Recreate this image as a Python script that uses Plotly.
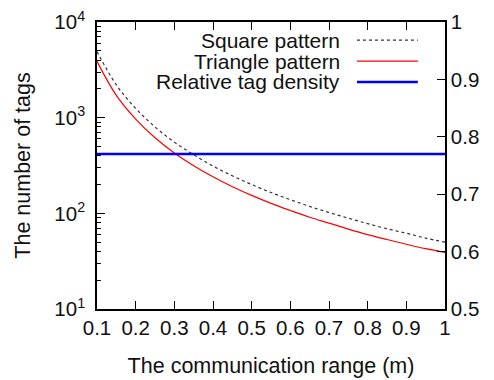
import plotly.graph_objects as go

# communication range (m)
comm_range = [0.1, 0.15, 0.2, 0.25, 0.3, 0.35, 0.4, 0.45, 0.5, 0.55, 0.6,
              0.65, 0.7, 0.75, 0.8, 0.85, 0.9, 0.95, 1.0]
# number of tags, square pattern
square_tags = [4900, 2200, 1250, 800, 555, 410, 312, 247, 200, 165, 139,
               118, 102, 89, 78, 69, 62, 55, 50]
# number of tags, triangle pattern
triangle_tags = [3880, 1710, 965, 617, 428, 315, 241, 190, 154, 127, 107,
                 91, 79, 68.5, 60, 53.3, 47.5, 42.7, 39]
# relative tag density (right axis)
rel_density = [0.77] * len(comm_range)

series_names = ["Square pattern", "Triangle pattern", "Relative tag density"]
x_ticks = [0.1, 0.2, 0.3, 0.4, 0.5, 0.6, 0.7, 0.8, 0.9, 1]
x_ticktext = ["0.1", "0.2", "0.3", "0.4", "0.5", "0.6", "0.7", "0.8", "0.9", "1"]
y_ticks = [10, 100, 1000, 10000]
y_ticktext = ["10<sup>1</sup>", "10<sup>2</sup>", "10<sup>3</sup>", "10<sup>4</sup>"]
y2_ticks = [0.5, 0.6, 0.7, 0.8, 0.9, 1.0]
y2_ticktext = ["0.5", "0.6", "0.7", "0.8", "0.9", "1"]

FONT = "Liberation Sans, Arial, sans-serif"
TF = dict(family=FONT, size=20.5, color="#111111")
LF = dict(family=FONT, size=21, color="#111111")
AF = dict(family=FONT, size=21.5, color="#111111")

fig = go.Figure()
fig.add_trace(go.Scatter(x=comm_range, y=square_tags, mode="lines",
                         line=dict(color="#333333", width=1.2, dash="dot", shape="spline"),
                         name=series_names[0], showlegend=False))
fig.add_trace(go.Scatter(x=comm_range, y=triangle_tags, mode="lines",
                         line=dict(color="#ff0000", width=1.2, shape="spline"),
                         name=series_names[1], showlegend=False))
fig.add_trace(go.Scatter(x=comm_range, y=rel_density, mode="lines", yaxis="y2",
                         line=dict(color="#0000ff", width=2.5),
                         name=series_names[2], showlegend=False))

minor_vals = []
for d in [10, 100, 1000]:
    for k in range(2, 10):
        minor_vals.append(d * k)

# page body has an 8px margin, so the figure is 8px smaller on each axis
fig.update_layout(
    width=486, height=372,
    margin=dict(l=89, r=49, t=14, b=71),
    paper_bgcolor="white", plot_bgcolor="white",
    font=dict(family=FONT, size=20.5, color="#111111"),
    xaxis=dict(range=[0.1, 1], tickvals=x_ticks, ticktext=x_ticktext, tickfont=TF,
               ticks="inside", ticklen=8, tickwidth=1.2, tickcolor="black",
               showline=True, linecolor="black", linewidth=1.5, mirror="ticks",
               showgrid=False, zeroline=False, automargin=False, ticklabeloverflow="allow",
               title=dict(text="The communication range (m)", font=AF, standoff=20)),
    yaxis=dict(type="log", range=[1, 4], tickvals=y_ticks, ticktext=y_ticktext, tickfont=TF,
               ticks="inside", ticklen=8, tickwidth=1.2, tickcolor="black",
               minor=dict(tickvals=minor_vals, ticks="inside", ticklen=4, tickcolor="black", tickwidth=1.2),
               showline=True, linecolor="black", linewidth=1.5,
               showgrid=False, zeroline=False, automargin=False, ticklabelstandoff=6,
               ticklabeloverflow="allow",
               title=dict(text="The number of tags", font=AF, standoff=18)),
    yaxis2=dict(overlaying="y", side="right", range=[0.5, 1],
                tickvals=y2_ticks, ticktext=y2_ticktext, tickfont=TF,
                ticks="inside", ticklen=8, tickwidth=1.2, tickcolor="black",
                showline=True, linecolor="black", linewidth=1.5,
                showgrid=False, zeroline=False, automargin=False, ticklabeloverflow="allow"),
)

# gnuplot-style key (text right-aligned, sample to the right)
legend_y = [0.937, 0.864, 0.791]
legend_styles = [dict(color="#333333", width=1.2, dash="dot"),
                 dict(color="#ff0000", width=1.2),
                 dict(color="#0000ff", width=2.5)]
for name, yy, st in zip(series_names, legend_y, legend_styles):
    fig.add_annotation(x=0.704, y=yy, xref="paper", yref="paper", text=name,
                       showarrow=False, xanchor="right", yanchor="middle",
                       font=LF)
    fig.add_shape(type="line", xref="paper", yref="paper",
                  x0=0.747, x1=0.922, y0=yy, y1=yy, line=st)

fig.write_html("out.html")
